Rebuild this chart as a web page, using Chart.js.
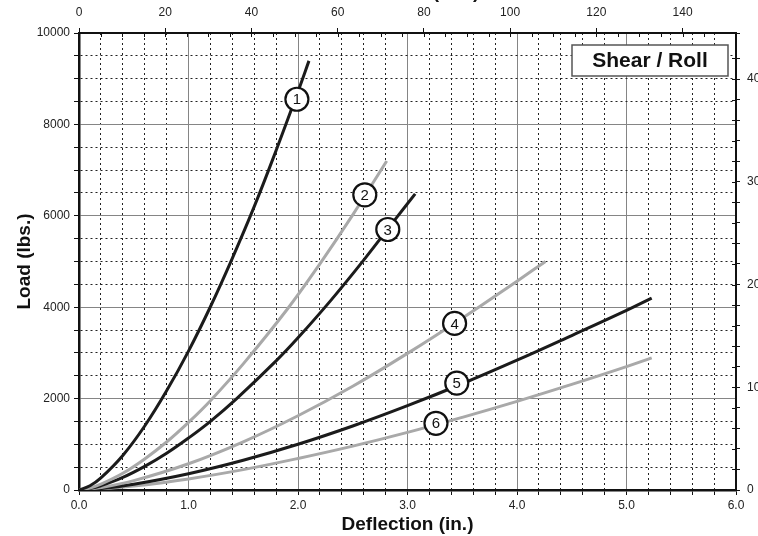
<!DOCTYPE html>
<html>
<head>
<meta charset="utf-8">
<title>Shear / Roll</title>
<script src="https://cdn.jsdelivr.net/npm/chart.js@4.4.1/dist/chart.umd.min.js"></script>
<style>
  html, body { margin: 0; padding: 0; background: #fff; }
  body { width: 758px; height: 536px; overflow: hidden; position: relative; }
  /* canvas is a bit larger than the window, the top title and right labels are cut like in the original */
  #loadChart { position: absolute; left: 0; top: -24px; }
</style>
</head>
<body>
<canvas id="loadChart" width="800" height="560"></canvas>
<script>
// Curve data: deflection (in.) and load (lbs.)
const deflection1 = [0, 0.1, 0.2, 0.4, 0.6, 0.8, 1.0, 1.2, 1.4, 1.6, 1.8, 2.0, 2.1];
const load1 = [0, 92, 264, 756, 1400, 2170, 3040, 4010, 5070, 6200, 7430, 8720, 9390];

const deflection2 = [0, 0.1, 0.2, 0.4, 0.6, 0.8, 1.0, 1.2, 1.5, 1.9, 2.2, 2.5, 2.81];
const load2 = [0, 44, 127, 365, 680, 1050, 1480, 1955, 2760, 3950, 4950, 6020, 7200];

const deflection3 = [0, 0.1, 0.2, 0.4, 0.6, 0.8, 1.0, 1.2, 1.44, 1.8, 2.0, 2.3, 2.6, 2.9, 3.07];
const load3 = [0, 32, 94, 275, 516, 804, 1137, 1503, 2000, 2825, 3330, 4150, 5030, 5960, 6480];

const deflection4 = [0, 0.2, 0.5, 1.0, 1.5, 2.0, 2.5, 3.0, 3.5, 4.0, 4.26];
const load4 = [0, 55, 205, 575, 1055, 1625, 2270, 2990, 3760, 4570, 5000];

const deflection5 = [0, 0.2, 0.5, 1.0, 1.5, 2.0, 2.5, 3.0, 3.5, 4.0, 4.5, 5.0, 5.23];
const load5 = [0, 32, 125, 355, 650, 1000, 1400, 1845, 2325, 2840, 3380, 3930, 4200];

const deflection6 = [0, 0.2, 0.5, 1.0, 1.5, 2.0, 2.5, 3.0, 3.5, 4.0, 4.5, 5.0, 5.23];
const load6 = [0, 22, 86, 243, 446, 690, 960, 1260, 1590, 1940, 2310, 2700, 2890];

// Numbered circles sitting on the curves
const curveNames = ['1', '2', '3', '4', '5', '6'];
const labelDeflection = [1.99, 2.61, 2.82, 3.43, 3.45, 3.26];
const labelLoad = [8550, 6460, 5700, 3645, 2340, 1460];

const chartTitle = 'Shear / Roll';
const xTitle = 'Deflection (in.)';
const xTopTitle = 'Deflection (mm)';
const yTitle = 'Load (lbs.)';

const BLACK = '#1b1b1b';
const GRAY = '#a9a9a9';
const MAJOR_GRID = '#858585';
const MINOR_GRID = '#222';
const FAMILY = "'Liberation Sans', Arial, Helvetica, sans-serif";

const tickFont = { family: FAMILY, size: 12 };
const titleFont = { family: FAMILY, size: 19, weight: 'bold' };

function toPoints(xs, ys) {
  return xs.map((x, i) => ({ x: x, y: ys[i] }));
}

function isWhole(value, step) {
  const r = value / step;
  return Math.abs(r - Math.round(r)) < 1e-6;
}

function curveDataset(name, xs, ys, color) {
  return {
    label: name,
    data: toPoints(xs, ys),
    borderColor: color,
    borderWidth: 3,
    borderCapStyle: 'butt',
    pointRadius: 0,
    tension: 0.4,
    fill: false
  };
}

// Draw the number inside each circle
const curveNumbers = {
  id: 'curveNumbers',
  afterDatasetsDraw(chart) {
    const ctx = chart.ctx;
    const meta = chart.getDatasetMeta(0);
    ctx.save();
    ctx.font = '15px ' + FAMILY;
    ctx.fillStyle = '#111';
    ctx.textAlign = 'center';
    ctx.textBaseline = 'middle';
    meta.data.forEach((pt, i) => {
      ctx.fillText(curveNames[i], pt.x, pt.y + 1);
    });
    ctx.restore();
  }
};

// Inner tick marks on the top (mm) and right (kN) axes, taken from the scales' own ticks
const innerTicks = {
  id: 'innerTicks',
  afterDraw(chart) {
    const ctx = chart.ctx;
    const top = chart.scales.xTop;
    const right = chart.scales.yRight;
    ctx.save();
    ctx.strokeStyle = '#111';
    ctx.lineWidth = 1;
    ctx.beginPath();
    top.ticks.forEach(t => {
      const x = Math.round(top.getPixelForValue(t.value)) + 0.5;
      ctx.moveTo(x, top.bottom);
      ctx.lineTo(x, top.bottom + 4);
    });
    right.ticks.forEach(t => {
      const y = Math.round(right.getPixelForValue(t.value)) + 0.5;
      ctx.moveTo(right.left, y);
      ctx.lineTo(right.left - 4, y);
    });
    ctx.stroke();
    ctx.restore();
  }
};

// Boxed title in the top right corner of the plot
const titleBox = {
  id: 'titleBox',
  afterDatasetsDraw(chart) {
    const { ctx, chartArea } = chart;
    const w = 156, h = 31;
    const x = chartArea.right - 8 - w;
    const y = chartArea.top + 12;
    ctx.save();
    ctx.fillStyle = '#fff';
    ctx.fillRect(x, y, w, h);
    ctx.strokeStyle = '#555';
    ctx.lineWidth = 1.5;
    ctx.strokeRect(x, y, w, h);
    ctx.font = 'bold 21px ' + FAMILY;
    ctx.fillStyle = '#111';
    ctx.textAlign = 'center';
    ctx.textBaseline = 'middle';
    ctx.fillText(chartTitle, x + w / 2, y + h / 2 + 1);
    ctx.restore();
  }
};

const datasets = [
  {
    label: 'numbers',
    data: toPoints(labelDeflection, labelLoad),
    showLine: false,
    pointRadius: 11.5,
    pointBorderWidth: 2.2,
    pointBackgroundColor: '#fff',
    pointBorderColor: '#111'
  },
  curveDataset('1', deflection1, load1, BLACK),
  curveDataset('2', deflection2, load2, GRAY),
  curveDataset('3', deflection3, load3, BLACK),
  curveDataset('4', deflection4, load4, GRAY),
  curveDataset('5', deflection5, load5, BLACK),
  curveDataset('6', deflection6, load6, GRAY)
];

const ctx = document.getElementById('loadChart');

window.loadChart = new Chart(ctx, {
  type: 'line',
  data: { datasets: datasets },
  plugins: [curveNumbers, titleBox, innerTicks],
  options: {
    responsive: false,
    animation: false,
    devicePixelRatio: 1,
    layout: { padding: 0 },
    plugins: {
      legend: { display: false },
      tooltip: { enabled: false }
    },
    scales: {
      x: {
        type: 'linear',
        position: 'bottom',
        min: 0,
        max: 6,
        afterFit: s => { s.height = 46; },
        ticks: {
          stepSize: 0.2,
          autoSkip: false,
          maxRotation: 0,
          padding: 3,
          color: '#222',
          font: tickFont,
          callback: v => isWhole(v, 1) ? v.toFixed(1) : ''
        },
        grid: {
          color: c => (c.tick && isWhole(c.tick.value, 1)) ? MAJOR_GRID : MINOR_GRID,
          lineWidth: 1,
          tickLength: 5,
          tickColor: '#111',
          tickWidth: 1
        },
        border: {
          color: '#111',
          width: 2.5,
          dash: c => (c.tick && !isWhole(c.tick.value, 1)) ? [2, 3] : []
        },
        title: {
          display: true,
          text: xTitle,
          color: '#111',
          font: titleFont,
          padding: { top: 0, bottom: 0 }
        }
      },
      xTop: {
        type: 'linear',
        position: 'top',
        min: 0,
        max: 152.4,
        afterFit: s => { s.height = 57; },
        ticks: {
          stepSize: 5,
          autoSkip: false,
          maxRotation: 0,
          padding: 8,
          color: '#222',
          font: tickFont,
          callback: v => isWhole(v, 20) ? String(Math.round(v)) : ''
        },
        grid: {
          drawOnChartArea: false,
          tickLength: 5,
          tickColor: c => (c.tick && isWhole(c.tick.value, 20)) ? '#111' : 'rgba(0,0,0,0)'
        },
        border: { color: '#111', width: 2 },
        title: {
          display: true,
          text: xTopTitle,
          color: '#111',
          font: titleFont,
          padding: { top: 5, bottom: 0 }
        }
      },
      y: {
        type: 'linear',
        position: 'left',
        min: 0,
        max: 10000,
        afterFit: s => { s.width = 79; },
        ticks: {
          stepSize: 500,
          autoSkip: false,
          padding: 4,
          color: '#222',
          font: tickFont,
          callback: v => isWhole(v, 2000) ? String(v) : ''
        },
        grid: {
          color: c => (c.tick && isWhole(c.tick.value, 2000)) ? MAJOR_GRID : MINOR_GRID,
          lineWidth: 1,
          tickLength: 5,
          tickColor: '#111'
        },
        border: {
          color: '#111',
          width: 2.5,
          dash: c => (c.tick && !isWhole(c.tick.value, 2000)) ? [2, 3] : []
        },
        title: {
          display: true,
          text: yTitle,
          color: '#111',
          font: titleFont,
          padding: { top: 13, bottom: 0 }
        }
      },
      yRight: {
        type: 'linear',
        position: 'right',
        min: 0,
        max: 44.48,
        afterFit: s => { s.width = 64; },
        ticks: {
          stepSize: 2,
          autoSkip: false,
          padding: 7,
          color: '#222',
          font: tickFont,
          callback: v => isWhole(v, 10) ? String(Math.round(v)) : ''
        },
        grid: {
          drawOnChartArea: false,
          tickLength: 4,
          tickColor: '#111'
        },
        border: { color: '#111', width: 2 }
      }
    }
  }
});
</script>
</body>
</html>
